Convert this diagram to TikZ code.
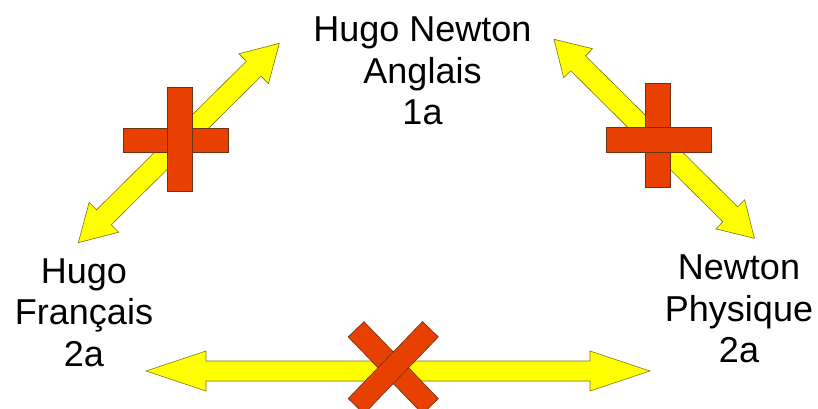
\documentclass[tikz,border=0pt]{standalone}
\usepackage{fontspec}
\setmainfont{Liberation Sans}
\definecolor{arrowyellow}{RGB}{255,255,0}
\definecolor{arrowedge}{RGB}{125,115,20}
\definecolor{crossred}{RGB}{232,64,0}
\definecolor{crossedge}{RGB}{110,50,20}
\tikzset{
  yarrow/.style={fill=arrowyellow,draw=arrowedge,line width=0.6pt,line join=miter},
  redbar/.style={fill=crossred,draw=crossedge,line width=0.6pt},
  label/.style={align=center,inner sep=0pt,anchor=north,
    font=\fontsize{36}{41.5}\selectfont},
}
% double-headed block arrow: centre, angle, half length, head length,
% head half width, shaft half width
\newcommand\dblarrow[6]{%
  \begin{scope}[shift={(#1)},rotate=#2]
    \draw[yarrow] (-#3,0) -- ({-#3+#4},#5) -- ({-#3+#4},#6) -- ({#3-#4},#6)
      -- ({#3-#4},#5) -- (#3,0) -- ({#3-#4},-#5) -- ({#3-#4},-#6)
      -- ({-#3+#4},-#6) -- ({-#3+#4},-#5) -- cycle;
  \end{scope}}
\begin{document}
\begin{tikzpicture}[x=1pt,y=1pt]
  \useasboundingbox (0,0) rectangle (818,408);
  \clip (0,0) rectangle (818,408);

  % labels
  \node[label] (anglais) at (422.5,391.3) {Hugo Newton\\Anglais\\1a};
  \node[label] (francais) at (84,149.7) {Hugo\\Français\\2a};
  \node[label] (physique) at (739,153) {Newton\\Physique\\2a};

  % block arrows
  \dblarrow{178.8,265}{44.77}{141.5}{36}{21}{10.5}
  \dblarrow{654.2,269.2}{-44.8}{141.2}{34}{20.5}{10.5}
  \dblarrow{398,37}{0}{252}{60}{20}{10}

  % upright cross on the left link (vertical bar in front)
  \draw[redbar] (123.3,255.3) rectangle (228.3,279.7);
  \draw[redbar] (167.3,216.3) rectangle (192.3,320.7);

  % upright cross on the right link (horizontal bar in front)
  \draw[redbar] (645.3,220.3) rectangle (670,324.7);
  \draw[redbar] (606,256) rectangle (711,280.7);

  % slanted cross on the bottom link
  \begin{scope}[shift={(393.25,40.25)}]
    \draw[redbar,rotate=-46] (-53.5,-11) rectangle (53.5,11);
    \draw[redbar,rotate=46] (-53.5,-11) rectangle (53.5,11);
  \end{scope}
\end{tikzpicture}
\end{document}
